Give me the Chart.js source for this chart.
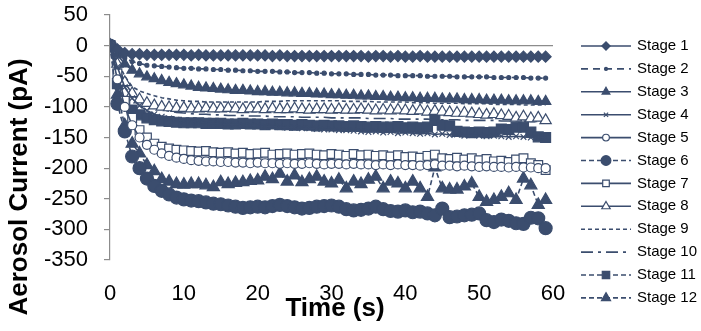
<!DOCTYPE html>
<html>
<head>
<meta charset="utf-8">
<script src="https://cdn.jsdelivr.net/npm/chart.js@4/dist/chart.umd.min.js"></script>
<style>
html,body{margin:0;padding:0;background:#fff;}
#wrap{position:relative;width:701px;height:331px;}
</style>
</head>
<body>
<div id="wrap"><canvas id="c" width="701" height="331"></canvas></div>
<script>
const TIME_S = [0,1,2,3,4,5,6,7,8,9,10,11,12,13,14,15,16,17,18,19,20,21,22,23,24,25,26,27,28,29,30,31,32,33,34,35,36,37,38,39,40,41,42,43,44,45,46,47,48,49,50,51,52,53,54,55,56,57,58,59];
const X_TICKS = [0,10,20,30,40,50,60];
const Y_TICKS = [50,0,-50,-100,-150,-200,-250,-300,-350];
const STAGE_NAMES = ['Stage 1','Stage 2','Stage 3','Stage 4','Stage 5','Stage 6','Stage 7','Stage 8','Stage 9','Stage 10','Stage 11','Stage 12'];

const STAGE_1 = [0,-6,-12,-14,-14,-15,-15,-15,-15,-15,-15,-16,-15,-16,-16,-16,-16,-16,-16,-16,-16,-16,-17,-16,-17,-17,-17,-17,-17,-17,-17,-17,-17,-17,-17,-18,-17,-17,-18,-17,-18,-18,-17,-18,-18,-18,-18,-18,-18,-18,-18,-18,-18,-18,-18,-18,-18,-18,-18,-18];
const STAGE_2 = [0,-10,-20,-26,-29,-32,-33,-34,-35,-36,-37,-37,-38,-38,-39,-39,-40,-40,-41,-41,-42,-42,-42,-43,-43,-44,-44,-44,-45,-45,-46,-46,-46,-47,-47,-47,-48,-48,-48,-49,-49,-49,-49,-50,-50,-50,-50,-51,-51,-51,-51,-51,-52,-52,-52,-52,-52,-53,-53,-53];
const STAGE_3 = [0,-15,-30,-40,-46,-51,-54,-57,-60,-62,-64,-66,-68,-69,-70,-71,-72,-73,-73,-74,-75,-75,-76,-76,-77,-77,-78,-78,-79,-79,-80,-80,-81,-81,-82,-82,-83,-83,-84,-84,-85,-85,-86,-86,-86,-87,-87,-87,-88,-88,-88,-89,-89,-89,-90,-90,-90,-90,-91,-91];
const STAGE_4 = [0,-35,-68,-86,-98,-106,-112,-116,-119,-121,-123,-124,-125,-126,-127,-128,-129,-129,-130,-131,-131,-132,-132,-133,-134,-134,-135,-135,-136,-137,-137,-138,-138,-139,-140,-141,-140,-142,-141,-143,-142,-143,-144,-143,-145,-144,-146,-145,-147,-146,-147,-148,-147,-148,-149,-148,-149,-150,-149,-150];
const STAGE_5 = [0,-55,-100,-130,-150,-162,-170,-176,-180,-183,-185,-187,-188,-189,-189,-190,-190,-191,-191,-192,-191,-192,-192,-193,-192,-193,-193,-192,-193,-194,-193,-193,-194,-193,-194,-194,-195,-194,-195,-194,-195,-195,-196,-195,-194,-196,-196,-197,-196,-197,-198,-197,-198,-198,-199,-198,-199,-199,-200,-200];
const STAGE_6 = [0,-95,-140,-181,-200,-217,-229,-237,-243,-248,-251,-253,-254,-256,-258,-259,-261,-263,-265,-264,-263,-264,-262,-260,-262,-264,-266,-265,-263,-262,-261,-263,-267,-269,-268,-266,-263,-267,-270,-271,-269,-272,-271,-274,-277,-266,-280,-279,-277,-276,-274,-285,-288,-284,-286,-290,-291,-281,-282,-298];
const STAGE_7 = [0,-45,-90,-118,-138,-150,-160,-165,-168,-170,-171,-172,-173,-172,-174,-175,-174,-176,-175,-177,-176,-175,-178,-177,-176,-178,-177,-176,-178,-179,-177,-178,-180,-177,-179,-178,-180,-179,-181,-179,-182,-181,-183,-180,-178,-184,-185,-183,-186,-184,-187,-185,-189,-188,-190,-186,-184,-192,-195,-203];
const STAGE_8 = [0,-30,-60,-78,-88,-94,-98,-100,-101,-102,-102,-103,-103,-102,-103,-103,-102,-103,-104,-103,-103,-104,-103,-104,-104,-103,-104,-105,-104,-104,-105,-104,-105,-105,-104,-105,-106,-105,-106,-105,-106,-107,-106,-108,-107,-108,-109,-110,-110,-111,-112,-113,-112,-114,-115,-118,-116,-119,-118,-122];
const STAGE_9 = [0,-25,-50,-67,-74,-78,-82,-85,-87,-89,-90,-91,-91,-92,-92,-92,-92,-92,-92,-92,-92,-91,-91,-91,-90,-90,-90,-90,-90,-90,-90,-90,-91,-91,-91,-91,-92,-92,-92,-92,-92,-93,-93,-93,-94,-94,-94,-94,-95,-95,-95,-95,-96,-96,-96,-96,-97,-97,-97,-97];
const STAGE_10 = [0,-30,-62,-80,-90,-96,-101,-104,-107,-109,-110,-111,-112,-112,-113,-113,-114,-114,-114,-115,-115,-115,-116,-116,-116,-116,-117,-117,-117,-117,-118,-118,-118,-118,-118,-119,-119,-119,-119,-120,-120,-120,-120,-120,-121,-121,-121,-121,-122,-122,-122,-122,-122,-123,-123,-123,-123,-124,-124,-124];
const STAGE_11 = [0,-62,-92,-105,-113,-118,-121,-123,-124,-125,-126,-126,-126,-127,-127,-127,-128,-128,-127,-128,-128,-129,-128,-129,-129,-130,-129,-130,-131,-130,-131,-131,-132,-131,-132,-133,-132,-133,-133,-132,-134,-133,-134,-133,-122,-130,-131,-140,-141,-142,-141,-142,-141,-136,-137,-133,-133,-141,-149,-150];
const STAGE_12 = [0,-80,-130,-160,-176,-195,-205,-218,-222,-226,-227,-226,-226,-228,-231,-223,-226,-224,-223,-221,-220,-214,-218,-209,-222,-212,-223,-218,-214,-222,-225,-219,-233,-222,-226,-219,-214,-233,-222,-225,-233,-222,-233,-247,-199,-233,-235,-235,-230,-225,-247,-255,-252,-247,-241,-252,-217,-228,-260,-252];

const SERIES = [STAGE_1,STAGE_2,STAGE_3,STAGE_4,STAGE_5,STAGE_6,STAGE_7,STAGE_8,STAGE_9,STAGE_10,STAGE_11,STAGE_12];

const C = '#3b4d6e';
const W = '#ffffff';
// style per stage: [pointStyle, radius, filled, dash]
const STYLES = [
  ['rectRot', 5.5, true, []],
  ['circle', 2, true, [7,5]],
  ['triangle', 6, true, []],
  ['crossRot', 4, false, []],
  ['circle', 4.5, false, []],
  ['circle', 6.5, true, [5,3]],
  ['rect', 6.2, false, []],
  ['triangle', 6.5, false, []],
  [false, 0, false, [4,3]],
  [false, 0, false, [12,5,3,5]],
  ['rect', 7, true, [5,3]],
  ['triangle', 7, true, [5,3]]
];

const datasets = SERIES.map((vals, i) => {
  const [ps, r, filled, dash] = STYLES[i];
  return {
    label: STAGE_NAMES[i],
    data: TIME_S.map((t, k) => ({x: t, y: vals[k]})),
    borderColor: C,
    backgroundColor: C,
    borderWidth: 1.6,
    borderDash: dash,
    pointStyle: ps,
    pointRadius: r,
    pointHoverRadius: r,
    pointBackgroundColor: filled ? C : W,
    pointBorderColor: C,
    pointBorderWidth: 1.2,
    tension: 0,
    fill: false
  };
});

const FONT = '"Liberation Sans", Arial, sans-serif';

const sideLegend = {
  id: 'sideLegend',
  afterDraw(chart) {
    const ctx = chart.ctx;
    const y0 = 46, step = 22.9;
    chart.data.datasets.forEach((ds, i) => {
      const y = y0 + i * step;
      ctx.save();
      ctx.strokeStyle = ds.borderColor;
      ctx.lineWidth = ds.borderWidth;
      ctx.setLineDash(ds.borderDash || []);
      ctx.beginPath(); ctx.moveTo(581, y); ctx.lineTo(631, y); ctx.stroke();
      ctx.setLineDash([]);
      if (ds.pointStyle && ds.pointRadius > 0) {
        ctx.fillStyle = ds.pointBackgroundColor;
        ctx.strokeStyle = ds.pointBorderColor;
        ctx.lineWidth = ds.pointBorderWidth;
        Chart.helpers.drawPoint(ctx, {pointStyle: ds.pointStyle, radius: ds.pointRadius * 0.75, rotation: 0, borderWidth: ds.pointBorderWidth}, 606, y);
      }
      ctx.fillStyle = '#000';
      ctx.font = '15px ' + FONT;
      ctx.textBaseline = 'middle';
      ctx.textAlign = 'left';
      ctx.fillText(ds.label, 637, y);
      ctx.restore();
    });
    // axis titles
    ctx.save();
    ctx.fillStyle = '#000';
    ctx.font = 'bold 26px ' + FONT;
    ctx.textAlign = 'center';
    ctx.textBaseline = 'middle';
    ctx.fillText('Time (s)', 335, 309);
    ctx.translate(20, 187);
    ctx.rotate(-Math.PI / 2);
    ctx.fillText('Aerosol Current (pA)', 0, 0);
    ctx.restore();
  }
};

new Chart(document.getElementById('c'), {
  type: 'line',
  data: { datasets },
  options: {
    responsive: false,
    animation: false,
    devicePixelRatio: 1,
    layout: { padding: { left: 0, top: 15, right: 148, bottom: 0 } },
    plugins: { legend: { display: false }, tooltip: { enabled: false } },
    scales: {
      x: {
        type: 'linear',
        min: 0, max: 60,
        afterBuildTicks: s => { s.ticks = X_TICKS.map(v => ({value: v})); },
        afterFit: s => { s.height = 71; s.paddingLeft = 0; s.paddingRight = 0; },
        grid: { display: false, drawTicks: false },
        border: { display: false },
        ticks: { padding: 21, autoSkip: false, color: '#000', font: { family: FONT, size: 22 }, maxRotation: 0 }
      },
      y: {
        min: -350, max: 50,
        afterBuildTicks: s => { s.ticks = Y_TICKS.map(v => ({value: v})); },
        afterFit: s => { s.width = 110; s.paddingTop = 0; s.paddingBottom = 0; },
        grid: {
          drawOnChartArea: true,
          color: ctx => (ctx.tick && ctx.tick.value === 0) ? '#8c8c8c' : 'rgba(0,0,0,0)',
          tickColor: '#8c8c8c',
          tickLength: 6,
          lineWidth: 1.2
        },
        border: { display: true, color: '#8c8c8c', width: 1.2 },
        ticks: { padding: 16, autoSkip: false, color: '#000', font: { family: FONT, size: 22 } }
      }
    }
  },
  plugins: [sideLegend]
});
</script>
</body>
</html>
